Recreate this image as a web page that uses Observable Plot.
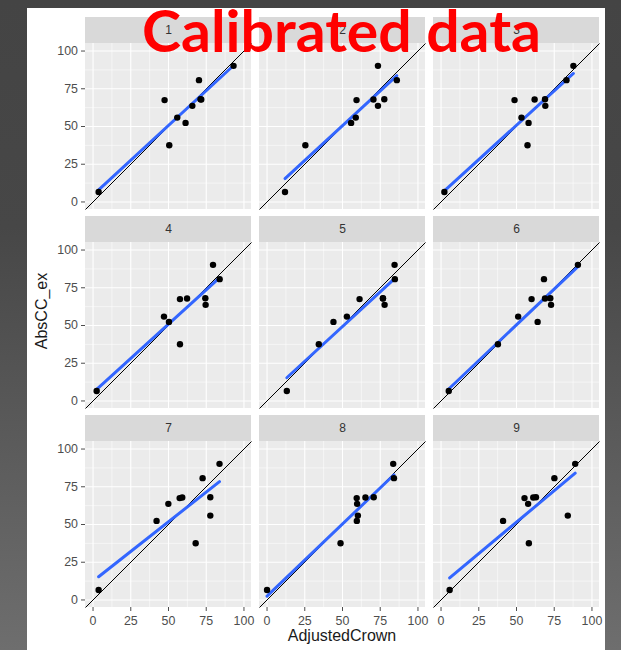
<!DOCTYPE html>
<html>
<head>
<meta charset="utf-8">
<script src="https://cdn.jsdelivr.net/npm/d3@7"></script>
<script src="https://cdn.jsdelivr.net/npm/@observablehq/plot@0.6"></script>
<style>
  html, body { margin: 0; padding: 0; }
  body {
    width: 621px; height: 650px; overflow: hidden; position: relative;
    background: linear-gradient(to bottom, #444444 0%, #474747 35%, #6e6e6e 100%);
    font-family: "Liberation Sans", Arial, sans-serif;
  }
  #sheet { position: absolute; left: 27px; top: 8px; width: 578px; height: 642px; background: #ffffff; }
  #chart { position: absolute; left: 0; top: 0; }
  .axis-title { position: absolute; color: #1a1a1a; font-size: 16px; line-height: 1; font-family: "Liberation Sans", Arial, sans-serif; white-space: nowrap; }
  #ytitle { left: 15px; top: 303px; transform: translate(-50%, -50%) rotate(-90deg); }
  #xtitle { left: 315px; top: 628px; transform: translate(-50%, -50%); }
  #title { position: absolute; left: 0; top: 0; pointer-events: none; }
</style>
</head>
<body>
<div id="sheet">
  <div id="chart"></div>
  <div class="axis-title" id="ytitle">AbsCC_ex</div>
  <div class="axis-title" id="xtitle">AdjustedCrown</div>
</div>
<svg id="title" width="621" height="70">
  <text x="142" y="52" font-family="Lato, 'Open Sans', sans-serif" font-weight="700" font-size="58" fill="#ff0000" textLength="399" lengthAdjust="spacingAndGlyphs">Calibrated data</text>
</svg>
<script>
// ---- data ----
const panelIds = [1, 2, 3, 4, 5, 6, 7, 8, 9];
// observed values (same trees in every panel)
const absCCex = [6.6, 37.6, 52.4, 55.9, 63.7, 67.5, 67.9, 68.1, 80.7, 90.2];
// adjusted crown per calibration panel, in the same tree order
const crown1 = [3.7, 50.5, 61.3, 55.8, 65.8, 47.4, 71.7, 71.2, 70.2, 93.1];
const crown2 = [11.9, 25.4, 55.7, 58.8, 73.5, 59.3, 70.5, 77.7, 86.0, 73.5];
const crown3 = [2.2, 57.3, 58.0, 53.3, 69.1, 48.7, 62.0, 68.9, 83.1, 87.7];
const crown4 = [2.4, 57.6, 50.3, 47.0, 74.6, 57.6, 62.3, 74.4, 83.9, 79.5];
const crown5 = [13.1, 34.3, 44.0, 52.9, 77.9, 61.3, 76.8, 76.8, 84.7, 84.5];
const crown6 = [5.1, 37.7, 64.0, 51.1, 72.9, 60.0, 68.9, 72.4, 68.2, 90.7];
const crown7 = [3.7, 68.0, 42.1, 77.7, 49.9, 57.4, 59.1, 77.7, 72.6, 83.8];
const crown8 = [0.0, 48.7, 59.5, 60.2, 59.7, 59.4, 65.2, 70.7, 84.1, 83.6];
const crown9 = [5.7, 58.2, 41.1, 84.0, 57.7, 55.3, 61.1, 62.9, 75.1, 88.9];
const tickValues = [0, 25, 50, 75, 100];
const minorValues = [12.5, 37.5, 62.5, 87.5];
const axisLimits = [-5, 105];

// ---- build table ----
const crowns = [crown1, crown2, crown3, crown4, crown5, crown6, crown7, crown8, crown9];
const colOf = (p) => ((p - 1) % 3) + 1;
const rowOf = (p) => Math.ceil(p / 3);
const table = [];
panelIds.forEach((p, i) => {
  crowns[i].forEach((x, j) => {
    table.push({panel: p, col: colOf(p), row: rowOf(p), AdjustedCrown: x, AbsCC_ex: absCCex[j]});
  });
});

// layout helpers (strip sits above each panel in the same y scale)
const panelPx = 166, stripPx = 26;
const unitsPerPx = (axisLimits[1] - axisLimits[0]) / panelPx;
const stripTop = axisLimits[1] + stripPx * unitsPerPx;
const mid = (axisLimits[0] + axisLimits[1]) / 2;
const box = [{x1: axisLimits[0], x2: axisLimits[1], y1: axisLimits[0], y2: axisLimits[1]}];
const stripBox = [{x1: axisLimits[0], x2: axisLimits[1], y1: axisLimits[1], y2: stripTop}];
const diag = [{a: axisLimits[0], b: axisLimits[1]}];

const chart = Plot.plot({
  width: 578,
  height: 642,
  marginLeft: 58,
  marginRight: 6,
  marginTop: 8,
  marginBottom: 43,
  style: {fontFamily: "'Liberation Sans', Arial, sans-serif", fontSize: "12.4px", color: "#4d4d4d", background: "#ffffff"},
  fx: {domain: [1, 2, 3], axis: null, paddingInner: 8 / 174, paddingOuter: 0},
  fy: {domain: [1, 2, 3], axis: null, paddingInner: 7.5 / 199.5, paddingOuter: 0},
  x: {domain: axisLimits, ticks: tickValues, tickSize: 4, tickPadding: 5, label: null},
  y: {domain: [axisLimits[0], stripTop], ticks: tickValues, tickSize: 4, tickPadding: 3.5, label: null},
  marks: [
    Plot.rect(box, {x1: "x1", x2: "x2", y1: "y1", y2: "y2", fill: "#ebebeb"}),
    Plot.rect(stripBox, {x1: "x1", x2: "x2", y1: "y1", y2: "y2", fill: "#d9d9d9"}),
    Plot.ruleY(minorValues, {x1: () => axisLimits[0], x2: () => axisLimits[1], stroke: "#ffffff", strokeWidth: 0.55}),
    Plot.ruleX(minorValues, {y1: () => axisLimits[0], y2: () => axisLimits[1], stroke: "#ffffff", strokeWidth: 0.55}),
    Plot.ruleY(tickValues, {x1: () => axisLimits[0], x2: () => axisLimits[1], stroke: "#ffffff", strokeWidth: 1.1}),
    Plot.ruleX(tickValues, {y1: () => axisLimits[0], y2: () => axisLimits[1], stroke: "#ffffff", strokeWidth: 1.1}),
    Plot.text(panelIds, {fx: colOf, fy: rowOf, x: () => mid, y: () => (axisLimits[1] + stripTop) / 2, text: (d) => String(d), fill: "#333333", fontSize: 12, dy: 0}),
    Plot.link(diag, {x1: "a", y1: "a", x2: "b", y2: "b", stroke: "#000000", strokeWidth: 1}),
    Plot.linearRegressionY(table, {x: "AdjustedCrown", y: "AbsCC_ex", fx: "col", fy: "row", stroke: "#3366ff", strokeWidth: 3, ci: 0}),
    Plot.dot(table, {x: "AdjustedCrown", y: "AbsCC_ex", fx: "col", fy: "row", r: 3.2, fill: "#000000", stroke: "none"})
  ]
});
document.getElementById("chart").appendChild(chart);
</script>
</body>
</html>
